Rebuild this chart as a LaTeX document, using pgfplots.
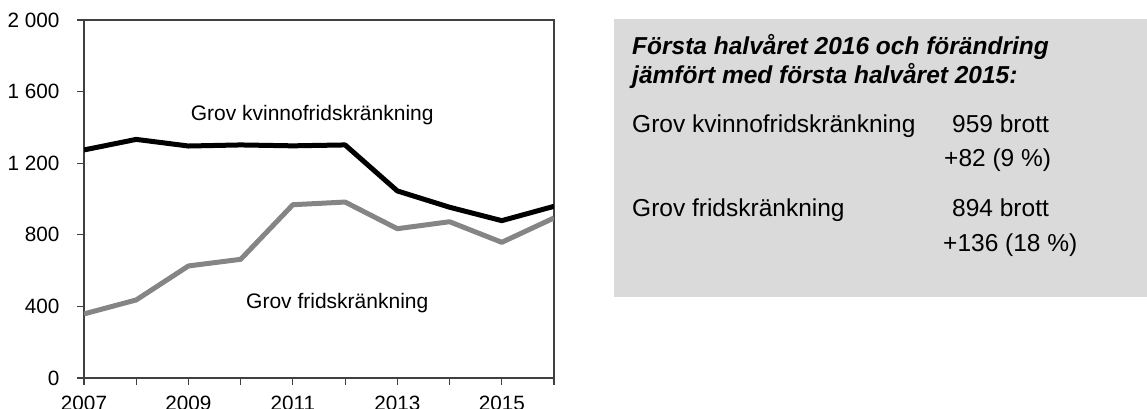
\documentclass[border=0pt]{standalone}
\usepackage{fontspec}
\setmainfont{Liberation Sans}
\usepackage{pgfplots}
\pgfplotsset{compat=1.18}
\definecolor{axgray}{HTML}{404040}
\definecolor{linegray}{HTML}{858585}
\definecolor{boxgray}{HTML}{DADADA}
\begin{document}
\begin{tikzpicture}
\path[use as bounding box] (0bp,0bp) rectangle (1147bp,409bp);
\fill[boxgray] (614bp,112bp) rectangle (1147bp,390bp);
\begin{axis}[
  at={(84bp,31bp)}, anchor=south west,
  scale only axis, width=470bp, height=358bp,
  xmin=2007, xmax=2016, ymin=0, ymax=2000,
  xtick={2007,2008,2009,2010,2011,2012,2013,2014,2015,2016},
  xticklabels={2007,,2009,,2011,,2013,,2015,},
  ytick={0,400,800,1200,1600,2000},
  yticklabels={0,400,800,1 200,1 600,2 000},
  xtick pos=bottom, ytick pos=left,
  tick align=outside, major tick length=7bp,
  axis line style={axgray, line width=1.2bp},
  every tick/.style={axgray, line width=1.2bp},
  tick label style={font=\fontsize{20.7bp}{24bp}\selectfont, text=black},
  xticklabel style={yshift=-8bp},
  yticklabel style={xshift=-14bp},
  /pgf/number format/assume math mode=true,
]
\addplot[black, line width=5bp, line join=round] coordinates {
 (2007,1274) (2008,1333) (2009,1296) (2010,1302) (2011,1297) (2012,1302)
 (2013,1045) (2014,954) (2015,879) (2016,959)};
\addplot[linegray, line width=5bp, line join=round] coordinates {
 (2007,358) (2008,436) (2009,626) (2010,663) (2011,968) (2012,983)
 (2013,834) (2014,873) (2015,758) (2016,894)};
\node[anchor=base, inner sep=0pt, font=\fontsize{21bp}{25bp}\selectfont] at (axis cs:2011.37,1441) {Grov kvinnofridskränkning};
\node[anchor=base, inner sep=0pt, font=\fontsize{21bp}{25bp}\selectfont] at (axis cs:2011.85,391) {Grov fridskränkning};
\end{axis}
\begin{scope}[every node/.style={anchor=base west, inner sep=0pt, font=\fontsize{24.5bp}{29bp}\selectfont}]
\node[font=\fontsize{24.5bp}{29bp}\selectfont\bfseries\itshape] at (632bp,354bp) {Första halvåret 2016 och förändring};
\node[font=\fontsize{24.5bp}{29bp}\selectfont\bfseries\itshape] at (632bp,325bp) {jämfört med första halvåret 2015:};
\node at (632bp,276bp) {Grov kvinnofridskränkning};
\node at (952bp,276bp) {959 brott};
\node at (944bp,242bp) {+82 (9 \%)};
\node at (632bp,192bp) {Grov fridskränkning};
\node at (952bp,192bp) {894 brott};
\node at (943bp,157bp) {+136 (18 \%)};
\end{scope}
\end{tikzpicture}
\end{document}
